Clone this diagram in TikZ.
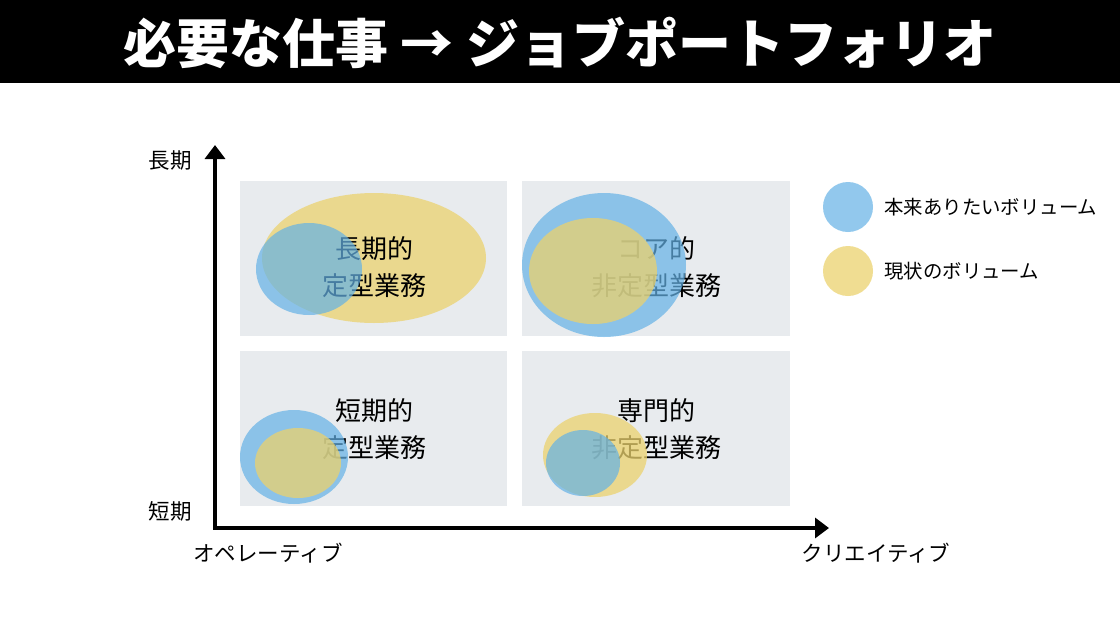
\documentclass[tikz,border=0pt]{standalone}
\usepackage{fontspec}
\setmainfont{Noto Sans CJK JP}
\usepackage{tikz}
\usepackage{tkz-euclide}
\usetikzlibrary{calc}
\usetikzlibrary{positioning}
\usetikzlibrary{arrows.meta}

\definecolor{quadgray}{RGB}{232,235,238}
\definecolor{volblue}{RGB}{100,178,230}
\definecolor{volyellow}{RGB}{235,210,110}

\begin{document}
\begin{tikzpicture}[%
  >={Triangle[length=14pt,width=20pt]},
  x=1pt, y=-1pt,
  quad/.style={fill=quadgray},
  ideal/.style={fill=volblue,fill opacity=0.7},
  actual/.style={fill=volyellow,fill opacity=0.75},
  axis/.style={line width=4pt},
  axislabel/.style={font=\fontsize{21.5}{24}\selectfont},
  quadlabel/.style={align=center,font=\fontsize{26}{37}\selectfont},
  legendlabel/.style={inner sep=0pt,font=\fontsize{19.4}{22}\selectfont}
]

  \useasboundingbox (0,0) rectangle (1120,630);
  \fill[white] (0,0) rectangle (1120,630);

  % title bar
  \fill[black] (0,0) rectangle (1120,83);
  \node[text=white,font=\fontsize{53}{56}\bfseries\selectfont] (title) at (560,43)
    {必要な仕事 → ジョブポートフォリオ};

  % quadrants
  \fill[quad] (240,181) rectangle (507,336);
  \fill[quad] (522,181) rectangle (790,336);
  \fill[quad] (240,351) rectangle (507,506);
  \fill[quad] (522,351) rectangle (790,506);

  % top left
  \fill[actual] (374,258) ellipse [x radius=112, y radius=65];
  \node[quadlabel] (tl) at (374,267) {長期的\\定型業務};
  \fill[ideal] (309,269) ellipse [x radius=53, y radius=46];

  % top right
  \node[quadlabel] (tr) at (656,267) {コア的\\非定型業務};
  \fill[ideal] (604,265) ellipse [x radius=82, y radius=72];
  \fill[actual] (593,271) ellipse [x radius=64, y radius=53];

  % bottom left
  \node[quadlabel] (bl) at (374,429) {短期的\\定型業務};
  \fill[ideal] (294,457) ellipse [x radius=54, y radius=47];
  \fill[actual] (298,463) ellipse [x radius=43, y radius=35];

  % bottom right
  \node[quadlabel] (br) at (656,429) {専門的\\非定型業務};
  \fill[actual] (595,455) ellipse [x radius=52, y radius=42];
  \fill[ideal] (583,463) ellipse [x radius=37, y radius=33];

  % axes
  \tkzDefPoint(215,528){O}
  \tkzDefPoint(215,145){T}
  \tkzDefPoint(829,528){R}
  \draw[axis,<->] (T) -- (O) -- (R);

  \node[axislabel] (long) at (170,160) {長期};
  \node[axislabel] (short) at (170,511) {短期};
  \node[axislabel] (oper) at (268,553) {オペレーティブ};
  \node[axislabel] (crea) at (876,553) {クリエイティブ};

  % legend
  \node[circle,minimum size=50pt,inner sep=0pt,ideal] (legIdeal) at (848,207) {};
  \node[circle,minimum size=50pt,inner sep=0pt,actual] (legActual) at (848,271) {};
  \node[legendlabel,right=11pt of legIdeal] (txtIdeal) {本来ありたいボリューム};
  \node[legendlabel,right=11pt of legActual] (txtActual) {現状のボリューム};

\end{tikzpicture}
\end{document}
